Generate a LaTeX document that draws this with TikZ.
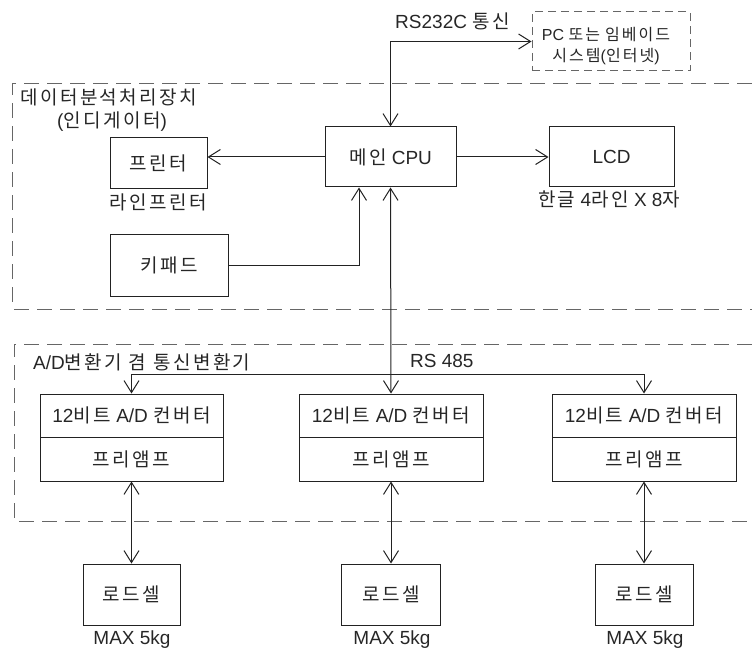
\documentclass[tikz,border=0pt]{standalone}
\usepackage{fontspec}
\setmainfont{Liberation Sans}
\newfontfamily\kr[LetterSpace=13]{Noto Sans CJK KR}
\usetikzlibrary{arrows.meta}
\definecolor{txt}{HTML}{262626}
\definecolor{ln}{HTML}{222222}
\definecolor{dsh}{HTML}{666666}
\begin{document}
\begin{tikzpicture}[x=1pt,y=-1pt,
  every node/.style={font=\fontsize{19}{22}\selectfont, text=txt, inner sep=0pt},
  box/.style={draw=ln, line width=1pt, rectangle, align=center},
  pcbox/.style={draw=dsh, line width=1pt, dash pattern=on 8pt off 5pt, rectangle},
  pctext/.style={align=center, font=\fontsize{16}{21}\selectfont},
  groupline/.style={draw=dsh, line width=1pt, dash pattern=on 15pt off 8pt},
  tip/.tip={Straight Barb[length=12pt,width=15pt]},
  arr/.style={-tip, line width=1pt, draw=ln},
  biarr/.style={tip-tip, line width=1pt, draw=ln}]
\useasboundingbox (0,0) rectangle (752,652);

% group frames
\draw[groupline] (752,84) -- (12.5,84) -- (12.5,309) -- (752,309);
\draw[groupline] (752,344) -- (14,344) -- (14,521) -- (752,521);

% group titles and labels
\node[anchor=west] (g1a) at (20,97) {\kr 데이터분석처리장치};
\node (g1b) at (112,122) {({\kr 인디게이터})};
\node[anchor=west] (g2) at (33,362) {A/D{\kr 변환기 겸 통신변환기}};
\node (rs232) at (452.5,21) {RS232C {\kr 통신}};
\node[anchor=west] (rs485) at (410,361) {RS 485};

% boxes
\node[pcbox, minimum width=158, minimum height=59] (pc) at (611,41.5) {};
\node[pctext] (pct) at (606,46)
  {PC {\kr 또는}\hspace{5pt}{\kr 임베이드}\\{\kr 시스템}({\kr 인터넷})};
\node[box, minimum width=131, minimum height=60] (cpu) at (390.5,157) {{\kr 메인} CPU};
\node[box, minimum width=125, minimum height=60] (lcd) at (611.5,157) {LCD};
\node (lcdl) at (609,199) {{\kr 한글} 4{\kr 라인} X 8{\kr 자}};
\node[box, minimum width=97, minimum height=51] (printer) at (158.5,163.5) {\kr 프린터};
\node (printl) at (158,202) {\kr 라인프린터};
\node[box, minimum width=118, minimum height=61] (keypad) at (169,265.5) {\kr 키패드};

\node[box, minimum width=183, minimum height=43] (adt1) at (131.5,415.5) {12{\kr 비트} A/D {\kr 컨버터}};
\node[box, minimum width=183, minimum height=44] (adb1) at (131.5,459) {\kr 프리앰프};
\node[box, minimum width=184, minimum height=43] (adt2) at (391,415.5) {12{\kr 비트} A/D {\kr 컨버터}};
\node[box, minimum width=184, minimum height=44] (adb2) at (391,459) {\kr 프리앰프};
\node[box, minimum width=184, minimum height=43] (adt3) at (644,415.5) {12{\kr 비트} A/D {\kr 컨버터}};
\node[box, minimum width=184, minimum height=44] (adb3) at (644,459) {\kr 프리앰프};

\node[box, minimum width=97, minimum height=61] (c1) at (131.5,594.5) {\kr 로드셀};
\node[box, minimum width=99, minimum height=61] (c2) at (391,594.5) {\kr 로드셀};
\node[box, minimum width=98, minimum height=61] (c3) at (644,594.5) {\kr 로드셀};
\node (m1) at (132,640) {MAX 5kg};
\node (m2) at (392,640) {MAX 5kg};
\node (m3) at (645,640) {MAX 5kg};

% connectors
\draw[biarr] (cpu.north) |- (pc.west);
\draw[arr] (cpu.west) -- (cpu.west -| printer.east);
\draw[arr] (cpu.east) -- (lcd.west);
\draw[arr] (keypad.east) -| ([xshift=-31.5pt]cpu.south);
\coordinate (busy) at (0,374);
\draw[biarr] (cpu.south) -- (adt2.north);
\draw[arr] (cpu.south |- busy) -| (adt1.north);
\draw[arr] (cpu.south |- busy) -| (adt3.north);
\draw[biarr] (adb1.south) -- (c1.north);
\draw[biarr] (adb2.south) -- (c2.north);
\draw[biarr] (adb3.south) -- (c3.north);
\end{tikzpicture}
\end{document}
